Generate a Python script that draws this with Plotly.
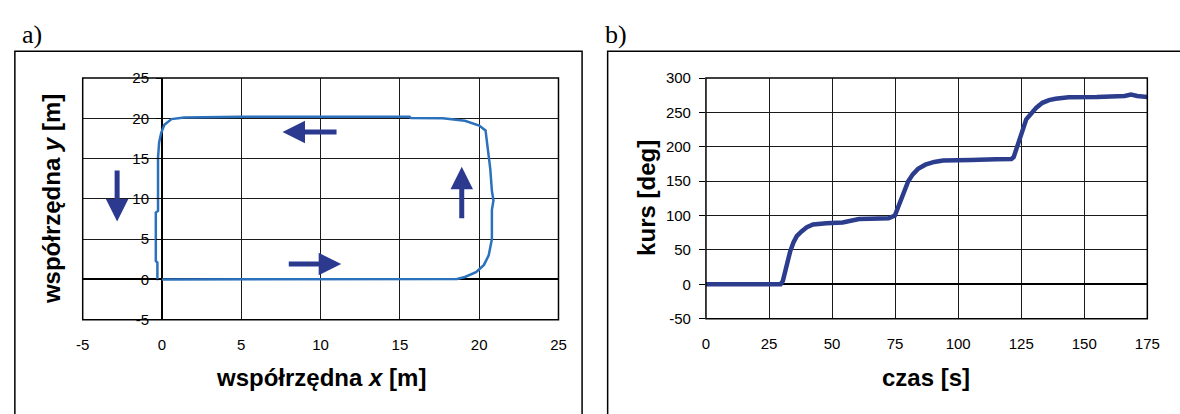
import plotly.graph_objects as go

# ---------------- data ----------------
# panel a) trajectory (x, y in metres)
traj_x = [0.0, 5.0, 10.0, 15.0, 18.6, 19.1, 19.8, 20.3, 20.6, 20.8, 20.8, 20.9, 20.8, 20.7,
          20.5, 20.4, 20.0, 19.1, 17.7, 15.7, 15.6, 15.0, 10.0, 5.0, 1.4, 0.6, 0.15, -0.05,
          -0.18, -0.25, -0.25, -0.39, -0.39, -0.29, -0.29]
traj_y = [0.0, 0.0, 0.0, 0.0, 0.05, 0.3, 0.9, 1.8, 3.0, 5.0, 8.6, 9.8, 11.0, 13.7,
          16.9, 18.5, 19.1, 19.7, 20.0, 20.05, 20.2, 20.2, 20.2, 20.2, 20.1, 19.9, 19.2, 18.2,
          17.0, 15.1, 8.5, 8.3, 2.3, 2.1, -0.1]

# direction arrows: (tail_x, tail_y, tip_x, tip_y)
arrow_tail_x = [11.1, -2.83, 18.9, 7.9]
arrow_tail_y = [18.3, 13.7, 7.4, 1.9]
arrow_tip_x = [7.6, -2.83, 18.9, 11.3]
arrow_tip_y = [18.3, 7.2, 14.0, 1.9]

# panel b) heading vs time
czas = [0, 10, 20, 29.6, 30.5, 32.1, 33.4, 34.7, 36, 37.9, 40, 42.5, 45, 47.7, 54.2, 57, 60.7,
        65, 72.4, 74.9, 76, 77.6, 79, 80.2, 82, 84.1, 87, 90.5, 94, 98.3, 105, 115, 121.1, 122,
        123, 124.3, 125.6, 127, 128.9, 131, 133.4, 136, 138.6, 143.8, 155, 164.6, 166,
        168.5, 171, 175]
kurs = [0, 0, 0, 0, 5, 33, 48, 61, 70, 77, 83, 87, 88.5, 89, 90, 92, 95,
        95.5, 96, 100, 110, 126, 139, 150, 160, 168, 174, 178, 180, 181, 181, 182, 182.4, 185,
        196, 213, 229, 240, 248, 257, 264, 268, 270, 272, 272.5, 273, 274,
        276, 274, 272.5]

# tick labels
xa_vals = [-5, 0, 5, 10, 15, 20, 25]
xa_text = ["-5", "0", "5", "10", "15", "20", "25"]
ya_vals = [-5, 0, 5, 10, 15, 20, 25]
ya_text = ["-5", "0", "5", "10", "15", "20", "25"]
xb_vals = [0, 25, 50, 75, 100, 125, 150, 175]
xb_text = ["0", "25", "50", "75", "100", "125", "150", "175"]
yb_vals = [-50, 0, 50, 100, 150, 200, 250, 300]
yb_text = ["-50", "0", "50", "100", "150", "200", "250", "300"]

# ---------------- layout geometry ----------------
W, H = 1180, 414
def fx(px):
    return px / W
def fy(py):
    return 1 - py / H

A_dom_x = [fx(77), fx(561)]
A_dom_y = [fy(324), fy(72)]
B_dom_x = [fx(711), fx(1160)]
B_dom_y = [fy(323), fy(72)]

FONT = "Liberation Sans, Arial, sans-serif"
SERIF = "Liberation Serif, Times New Roman, serif"
GRID = "#1a1a1a"
ARROW = "#2B3A8F"

fig = go.Figure()
fig.add_trace(go.Scatter(x=traj_x, y=traj_y, mode="lines",
                         line=dict(color="#2C71BC", width=2.5), xaxis="x", yaxis="y",
                         showlegend=False, hoverinfo="skip"))
fig.add_trace(go.Scatter(x=czas, y=kurs, mode="lines",
                         line=dict(color="#2C3D8E", width=4.5),
                         xaxis="x2", yaxis="y2", showlegend=False, hoverinfo="skip"))

# y axis of panel a sits at x = 0
pos_y_a = A_dom_x[0] + (A_dom_x[1] - A_dom_x[0]) * (0 - (-5)) / 30

common_tick = dict(tickfont=dict(family=FONT, size=15, color="black"))

fig.update_layout(
    width=W, height=H,
    margin=dict(l=0, r=0, t=0, b=0),
    paper_bgcolor="white", plot_bgcolor="white",
    showlegend=False,
    xaxis=dict(domain=A_dom_x, range=[-5, 25], anchor="y", tickvals=xa_vals, ticktext=xa_text,
               showgrid=True, gridcolor=GRID, gridwidth=1, zeroline=True, zerolinecolor="black",
               zerolinewidth=1.5, showline=False, ticks="", ticklabelstandoff=14, **common_tick),
    yaxis=dict(domain=A_dom_y, range=[-5, 25], anchor="free", position=pos_y_a,
               tickvals=ya_vals, ticktext=ya_text, showgrid=True, gridcolor=GRID, gridwidth=1,
               zeroline=True, zerolinecolor="black", zerolinewidth=1.5, showline=False,
               ticks="outside", ticklen=6, tickcolor="black", ticklabelstandoff=4, **common_tick),
    xaxis2=dict(domain=B_dom_x, range=[0, 175], anchor="y2", tickvals=xb_vals, ticktext=xb_text,
                showgrid=True, gridcolor=GRID, gridwidth=1, zeroline=False, showline=False,
                ticks="", ticklabelstandoff=14, **common_tick),
    yaxis2=dict(domain=B_dom_y, range=[-50, 300], anchor="x2", tickvals=yb_vals, ticktext=yb_text,
                showgrid=True, gridcolor=GRID, gridwidth=1, zeroline=True, zerolinecolor="black",
                zerolinewidth=1.5, showline=False, ticks="outside", ticklen=6, tickcolor="black",
                ticklabelstandoff=5, **common_tick),
)

shapes = [
    # plot-area frames
    dict(type="rect", xref="x domain", yref="y domain", x0=0, x1=1, y0=0, y1=1,
         line=dict(color="black", width=1.5), layer="above"),
    dict(type="rect", xref="x2 domain", yref="y2 domain", x0=0, x1=1, y0=0, y1=1,
         line=dict(color="black", width=1.5), layer="above"),
    # outer chart boxes
    dict(type="rect", xref="paper", yref="paper", x0=fx(8), x1=fx(585), y0=-0.2, y1=fy(44),
         line=dict(color="black", width=1.5)),
    dict(type="rect", xref="paper", yref="paper", x0=fx(611), x1=1.2, y0=-0.2, y1=fy(44),
         line=dict(color="black", width=1.5)),
]
fig.update_layout(shapes=shapes)

ann = []
for tx, ty, hx, hy in zip(arrow_tail_x, arrow_tail_y, arrow_tip_x, arrow_tip_y):
    ann.append(dict(x=hx, y=hy, ax=tx, ay=ty, xref="x", yref="y", axref="x", ayref="y",
                    text="", showarrow=True, arrowhead=2, arrowsize=0.9, arrowwidth=5,
                    arrowcolor=ARROW))

ann += [
    dict(text="a)", x=fx(13), y=fy(27), xref="paper", yref="paper", xanchor="left",
         yanchor="middle", showarrow=False, font=dict(family=SERIF, size=26, color="black")),
    dict(text="b)", x=fx(606), y=fy(27), xref="paper", yref="paper", xanchor="left",
         yanchor="middle", showarrow=False, font=dict(family=SERIF, size=26, color="black")),
    dict(text="<b>współrzędna <i>x</i> [m]</b>", x=fx(319), y=fy(384), xref="paper", yref="paper",
         xanchor="center", yanchor="middle", showarrow=False,
         font=dict(family=FONT, size=24, color="black")),
    dict(text="<b>współrzędna <i>y</i> [m]</b>", x=fx(46), y=fy(198), xref="paper", yref="paper",
         xanchor="center", yanchor="middle", showarrow=False, textangle=-90,
         font=dict(family=FONT, size=24, color="black")),
    dict(text="<b>czas [s]</b>", x=fx(935), y=fy(384), xref="paper", yref="paper",
         xanchor="center", yanchor="middle", showarrow=False,
         font=dict(family=FONT, size=24, color="black")),
    dict(text="<b>kurs [deg]</b>", x=fx(651), y=fy(197), xref="paper", yref="paper",
         xanchor="center", yanchor="middle", showarrow=False, textangle=-90,
         font=dict(family=FONT, size=24, color="black")),
]
fig.update_layout(annotations=ann)

fig.write_html("out.html", config={"displayModeBar": False},
               post_script="document.body.style.margin='0';document.body.style.overflow='hidden';")
